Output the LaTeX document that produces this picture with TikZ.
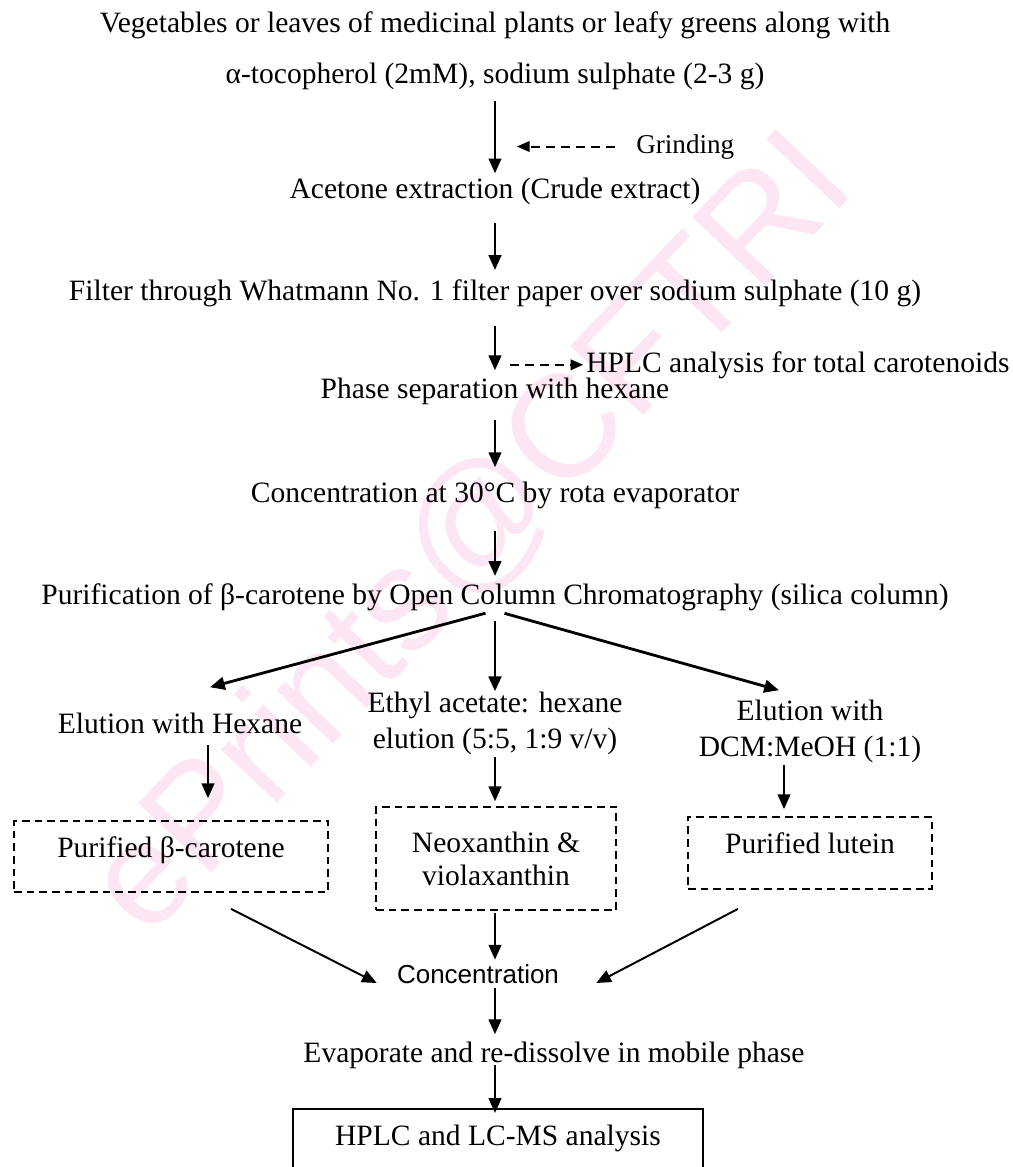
\documentclass[tikz,border=0pt]{standalone}
\usepackage{fontspec}
\setmainfont{Liberation Serif}
\newfontfamily\sansfont{Liberation Sans}
\usetikzlibrary{arrows.meta}

\begin{document}
\begin{tikzpicture}[x=0.025cm, y=-0.025cm,
    every node/.style={inner sep=0pt, font=\fontsize{21pt}{23.4pt}\selectfont},
    txt/.style={anchor=base},
    dbox/.style={draw, line width=1.2pt, dash pattern=on 5.5pt off 3.5pt, align=center},
    arr/.style={-{Triangle[length=10.5pt, width=9pt]}, line width=1.4pt},
    brarr/.style={-{Triangle[length=10.5pt, width=9pt]}, line width=2pt},
    darr/.style={-{Triangle[length=9pt, width=7.5pt]}, line width=1.4pt, dash pattern=on 6.4pt off 4.3pt}]

            \useasboundingbox (0,0) rectangle (1013,1167);

            % watermark
            \node[rotate=46.6, text=magenta!10, font=\sansfont\fontsize{104pt}{104pt}\selectfont] (mark) at (472,535) {ePrints@CFTRI};

            \coordinate (col) at (495,0);
            \coordinate (lcol) at (208,0);
            \coordinate (rcol) at (784,0);

            \node[txt] (veg) at (495,32) {Vegetables or leaves of medicinal plants or leafy greens along with};
            \node[txt] (toco) at (495,83) {α-tocopherol (2mM), sodium sulphate (2-3 g)};
            \node[txt, anchor=base west, font=\fontsize{19.3pt}{22pt}\selectfont] (grind) at (636,153) {Grinding};
            \node[txt] (acet) at (495,198) {Acetone extraction (Crude extract)};
            \node[txt] (filt) at (495,300) {Filter through Whatmann No. 1 filter paper over sodium sulphate (10 g)};
            \node[txt, anchor=base west] (hplc) at (586,372) {HPLC analysis for total carotenoids};
            \node[txt] (phase) at (495,398) {Phase separation with hexane};
            \node[txt] (evap30) at (495,502) {Concentration at 30°C by rota evaporator};
            \node[txt] (purif) at (495,604) {Purification of β-carotene by Open Column Chromatography (silica column)};

            \node[txt] (hex) at (180,733) {Elution with Hexane};
            \node[txt] (ethA) at (495,712) {Ethyl acetate: hexane};
            \node[txt] (ethB) at (495,748) {elution (5:5, 1:9 v/v)};
            \node[txt] (dcmA) at (810,720) {Elution with};
            \node[txt] (dcmB) at (810,756) {DCM:MeOH (1:1)};

            \node[dbox, minimum width=7.85cm, minimum height=1.775cm, text height=0.7em, text depth=0.55em] (lbox) at (171,856.5) {Purified β-carotene};
            \node[dbox, minimum width=6cm, minimum height=2.575cm] (mbox) at (496,858.5) {Neoxanthin \&\\violaxanthin};
            \node[dbox, minimum width=6.1cm, minimum height=1.8cm, text height=0.7em, text depth=0.7em] (rbox) at (810,853) {Purified lutein};

            \node[txt, font=\sansfont\fontsize{18.5pt}{20pt}\selectfont] (conc) at (478,983) {Concentration};
            \node[txt] (evap) at (554,1062) {Evaporate and re-dissolve in mobile phase};
            \node[draw, line width=1.3pt, minimum width=10.25cm, text height=0.925cm, text depth=1cm, anchor=north] (final) at (498,1108) {HPLC and LC-MS analysis};

            \draw[arr, shorten <=7.8pt, shorten >=2.8pt] (toco.south -| col) -- (acet.north -| col);
            \draw[darr, shorten <=15pt, shorten >=15.6pt] (grind.west) -- (grind.west -| col);
            \draw[arr, shorten <=12.8pt, shorten >=6.4pt] (acet.south -| col) -- (filt.north -| col);
            \draw[arr, shorten <=13.5pt, shorten >=5pt] (filt.south -| col) -- (phase.north -| col);
            \draw[darr, shorten <=10.6pt, shorten >=2pt] (hplc.west -| col) -- (hplc.west);
            \draw[arr, shorten <=11.3pt, shorten >=10pt] (phase.south -| col) -- (evap30.north -| col);
            \draw[arr, shorten <=15.6pt, shorten >=5pt] (evap30.south -| col) -- (purif.north -| col);

            \draw[brarr, shorten <=7pt] (purif.south -| col) -- ([shift={(30,-25)}]hex.north);
            \draw[brarr, shorten <=7pt] (purif.south -| col) -- (ethA.north -| col);
            \draw[brarr, shorten <=7pt] (purif.south -| col) -- ([shift={(-31,-9)}]dcmA.north);

            \draw[arr, shorten <=8pt, shorten >=15.6pt] (hex.south -| lcol) -- (lbox.north -| lcol);
            \draw[arr, shorten <=1.4pt, shorten >=3.5pt] (ethB.south -| col) -- (mbox.north -| col);
            \draw[arr, shorten <=1.4pt, shorten >=5pt] (dcmB.south -| rcol) -- (rbox.north -| rcol);

            \draw[arr] ([shift={(60,16)}]lbox.south) -- ([shift={(-20,0)}]conc.base west);
            \draw[arr, shorten <=1.4pt, shorten >=3pt] (mbox.south -| col) -- (conc.north -| col);
            \draw[arr] ([shift={(-72,19)}]rbox.south) -- ([shift={(37,0)}]conc.base east);

            \draw[arr, shorten <=3.5pt, shorten >=5pt] (conc.south -| col) -- (evap.north -| col);
            \draw[arr, shorten <=2pt, shorten >=-3.5pt] (evap.base -| col) -- (final.north -| col);
\end{tikzpicture}
\end{document}
